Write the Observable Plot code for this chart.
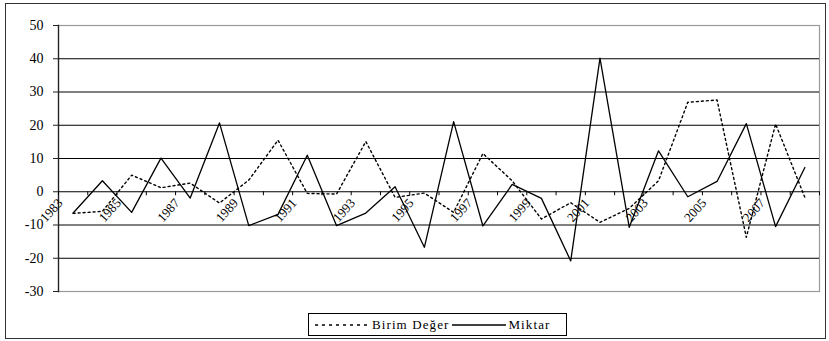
<!DOCTYPE html>
<html>
<head>
<meta charset="utf-8">
<script src="https://cdn.jsdelivr.net/npm/d3@7"></script>
<script src="https://cdn.jsdelivr.net/npm/@observablehq/plot@0.6"></script>
<style>
  html, body { margin: 0; padding: 0; background: #fff; }
  #wrap { position: relative; width: 829px; height: 341px; overflow: hidden; }
  #wrap, #wrap svg, #wrap text, #legend span { font-family: "Liberation Serif", "Times New Roman", "DejaVu Serif", serif !important; }
  #outer { position: absolute; left: 5px; top: 3px; width: 819px; height: 334px; border: 1.5px solid #333; }
  #chart { position: absolute; left: 0; top: 0; }
  #legend { position: absolute; left: 308px; top: 313px; width: 257px; height: 21px; border: 1px solid #000;
    display: flex; align-items: center; font-size: 13px; letter-spacing: 1.1px; background: #fff; }
  #legend svg { display: block; }
</style>
</head>
<body>
<div id="wrap">
  <div id="outer"></div>
  <div id="chart"></div>
  <div id="legend"></div>
</div>
<script>
const years = [1983,1984,1985,1986,1987,1988,1989,1990,1991,1992,1993,1994,1995,1996,1997,1998,1999,2000,2001,2002,2003,2004,2005,2006,2007,2008];
const birimDeger = [-6.5,-5.9,5.0,1.2,2.6,-3.4,3.5,15.5,-0.5,-0.7,15.1,-1.7,-0.4,-6.2,11.5,3.3,-8.2,-3.3,-9.2,-5.0,3.3,26.9,27.6,-13.7,20.4,-1.7];
const miktar = [-6.4,3.3,-6.2,10.1,-1.9,20.7,-10.2,-6.8,11.0,-10.2,-6.4,1.5,-16.7,21.1,-10.3,2.2,-2.0,-20.8,40.2,-10.7,12.3,-1.5,3.1,20.5,-10.5,7.3];
const yTicks = [-30,-20,-10,0,10,20,30,40,50];
const gridValues = [-20,-10,0,10,20,30,40];
const labelYears = [1983,1985,1987,1989,1991,1993,1995,1997,1999,2001,2003,2005,2007];
const seriesNames = ["Birim Değer", "Miktar"];

const serif = "Liberation Serif";
const rows = years.map((y, i) => ({year: y, birim: birimDeger[i], miktar: miktar[i]}));
const boundaries = years.map(y => y - 0.5).concat([years[years.length - 1] + 0.5]);

const plot = Plot.plot({
  width: 829,
  height: 341,
  marginTop: 25,
  marginBottom: 50,
  marginLeft: 58,
  marginRight: 10,
  style: {fontSize: "13px", background: "transparent", overflow: "visible"},
  x: {domain: [years[0] - 0.5, years[years.length - 1] + 0.5], axis: null},
  y: {domain: [yTicks[0], yTicks[yTicks.length - 1]], ticks: yTicks, label: null},
  marks: [
    Plot.frame({stroke: "#9a9a9a", strokeWidth: 1.2}),
    Plot.ruleY(gridValues, {stroke: "#000", strokeWidth: 1}),
    Plot.frame({anchor: "left", stroke: "#222", strokeWidth: 1.3}),
    Plot.axisY({ticks: yTicks, tickSize: 5, tickPadding: 10, tickFormat: d => String(d), stroke: "#222",
      fill: "#000", fontSize: 14, label: null, fontFamily: serif}),
    Plot.ruleX(boundaries, {x: d => d, y1: 0, y2: -1.2, stroke: "#000", strokeWidth: 1}),
    Plot.text(labelYears, {x: d => d, y: 0, text: d => String(d), rotate: -48, textAnchor: "end",
      dx: -13, dy: 9, fontSize: 13, fill: "#000", fontFamily: serif}),
    Plot.line(rows, {x: "year", y: "birim", stroke: "#000", strokeWidth: 1.4, strokeDasharray: "2,3"}),
    Plot.line(rows, {x: "year", y: "miktar", stroke: "#000", strokeWidth: 1.3})
  ]
});
document.getElementById("chart").appendChild(plot);

// Legend
const legend = document.getElementById("legend");
function sample(dash) {
  const ns = "http://www.w3.org/2000/svg";
  const s = document.createElementNS(ns, "svg");
  s.setAttribute("width", 54); s.setAttribute("height", 10);
  const l = document.createElementNS(ns, "line");
  l.setAttribute("x1", 0); l.setAttribute("x2", 54); l.setAttribute("y1", 5); l.setAttribute("y2", 5);
  l.setAttribute("stroke", "#000"); l.setAttribute("stroke-width", 1.3);
  if (dash) l.setAttribute("stroke-dasharray", dash);
  s.appendChild(l);
  return s;
}
const pad = document.createElement("span"); pad.style.width = "6px"; pad.style.display = "inline-block";
legend.appendChild(pad);
legend.appendChild(sample("3,4"));
const t1 = document.createElement("span"); t1.textContent = seriesNames[0]; t1.style.margin = "0 3px 0 3px";
legend.appendChild(t1);
legend.appendChild(sample(null));
const t2 = document.createElement("span"); t2.textContent = seriesNames[1]; t2.style.marginLeft = "2px";
legend.appendChild(t2);
</script>
</body>
</html>
